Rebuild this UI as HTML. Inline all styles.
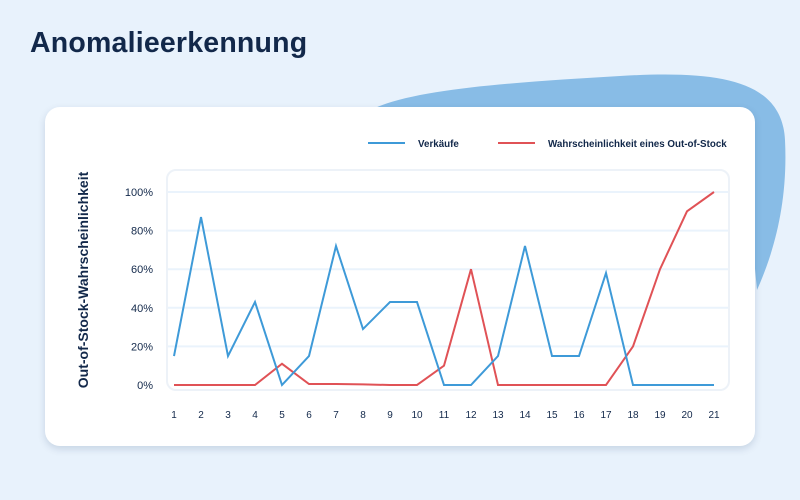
<!DOCTYPE html>
<html><head><meta charset="utf-8"><style>
body{margin:0;width:800px;height:500px;background:#e8f2fc;position:relative;overflow:hidden;font-family:"Liberation Sans",sans-serif;color:#12284a}
#title{position:absolute;left:30px;top:27px;font-size:28.5px;font-weight:bold;margin:0;letter-spacing:0.2px}
#card{position:absolute;left:45px;top:107px;width:710px;height:339px;background:#fff;border-radius:15px;box-shadow:0 3px 8px rgba(0,40,90,0.15)}
svg{position:absolute;left:0;top:0}
</style></head><body>
<svg width="800" height="500">
<path d="M375,108 C420,88 520,82 620,76 C720,70 782,80 785,140 C788,200 775,250 757,290 L740,110 Z" fill="#88bce6"/>
</svg>
<h1 id="title">Anomalieerkennung</h1>
<div id="card"></div>
<svg id="chart" width="800" height="500">
<rect x="167" y="170" width="562" height="220" rx="9" fill="none" stroke="#edf2f8" stroke-width="2"/>
<g id="grid"></g><g id="series"></g><g id="xt"></g>
<text transform="translate(88,280) rotate(-90)" text-anchor="middle" font-size="14" font-weight="bold" fill="#12284a">Out-of-Stock-Wahrscheinlichkeit</text>
<line x1="368" y1="143" x2="405" y2="143" stroke="#3e9ad8" stroke-width="2"/>
<text x="418" y="147" font-size="9.8" font-weight="bold" fill="#12284a">Verkäufe</text>
<line x1="498" y1="143" x2="535" y2="143" stroke="#e05256" stroke-width="2"/>
<text x="548" y="147" font-size="9.8" font-weight="bold" fill="#12284a">Wahrscheinlichkeit eines Out-of-Stock</text>
</svg>
<script>
const categories=[1,2,3,4,5,6,7,8,9,10,11,12,13,14,15,16,17,18,19,20,21];
const sales=[15,87,15,43,0,15,72,29,43,43,0,0,15,72,15,15,58,0,0,0,0];
const oosProb=[0,0,0,0,11,0.5,0.5,0.3,0,0,10,60,0,0,0,0,0,20,60,90,100];
const yTicks=[0,20,40,60,80,100];
const NS="http://www.w3.org/2000/svg";
const x=i=>174+(714-174)*i/(categories.length-1);
const y=v=>385-(385-192)*v/100;
const grid=document.getElementById('grid'),ser=document.getElementById('series'),xt=document.getElementById('xt');
yTicks.forEach(t=>{
 if(t>0){const l=document.createElementNS(NS,'line');
 
 
 l.setAttribute('x1',168);l.setAttribute('x2',728);l.setAttribute('y1',y(t));l.setAttribute('y2',y(t));
 l.setAttribute('stroke','#eaf3fc');l.setAttribute('stroke-width','2');grid.appendChild(l);}
 const tx=document.createElementNS(NS,'text');
 
 
 tx.setAttribute('x',153);tx.setAttribute('y',y(t)+4);tx.setAttribute('text-anchor','end');
 tx.setAttribute('font-size','11');tx.setAttribute('fill','#12284a');tx.textContent=t+'%';grid.appendChild(tx);
});
categories.forEach((c,i)=>{
 const tx=document.createElementNS(NS,'text');
 
 
 tx.setAttribute('x',x(i));tx.setAttribute('y',418);tx.setAttribute('text-anchor','middle');
 tx.setAttribute('font-size','10');tx.setAttribute('fill','#12284a');tx.textContent=c;xt.appendChild(tx);
});
function line(vals,color,name){
 const p=document.createElementNS(NS,'polyline');
 
 
 p.setAttribute('points',vals.map((v,i)=>x(i)+','+y(v)).join(' '));
 p.setAttribute('fill','none');p.setAttribute('stroke',color);p.setAttribute('stroke-width','2');
 p.setAttribute('stroke-linejoin','miter');ser.appendChild(p);
}
line(oosProb,'#e05256','oos-probability-line');
line(sales,'#3e9ad8','sales-line');
</script>
</body></html>
